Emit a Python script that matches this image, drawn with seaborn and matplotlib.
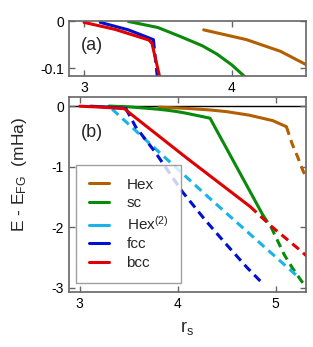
import matplotlib
matplotlib.use("Agg")
import matplotlib.pyplot as plt
from matplotlib.lines import Line2D
import seaborn as sns

# datos (rs, E - E_FG en mHa)
hex_rs = [3.81, 4.10, 4.33, 4.50, 4.73, 4.97, 5.11]
hex_e = [-0.018, -0.039, -0.064, -0.092, -0.15, -0.24, -0.34]
hex_rs_ext = [5.11, 5.17, 5.22, 5.28, 5.32]
hex_e_ext = [-0.34, -0.63, -0.82, -1.07, -1.20]

sc_rs = [3.30, 3.50, 3.65, 3.80, 3.90, 4.00, 4.08, 4.33, 4.87]
sc_e = [0.0, -0.013, -0.032, -0.052, -0.070, -0.093, -0.116, -0.20, -1.80]
sc_rs_ext = [4.87, 4.96, 5.09, 5.17, 5.32]
sc_e_ext = [-1.80, -2.02, -2.46, -2.67, -3.02]

hex2_rs_ext = [3.33, 4.29, 5.25]
hex2_e_ext = [-0.05, -1.47, -2.85]

fcc_rs = [3.11, 3.30, 3.47]
fcc_e = [-0.002, -0.018, -0.039]
fcc_rs_ext = [3.47, 3.57, 3.77, 4.05, 4.28, 4.50, 4.71, 4.88]
fcc_e_ext = [-0.04, -0.34, -0.76, -1.42, -1.88, -2.29, -2.67, -2.95]

bcc_rs = [3.0, 3.21, 3.44, 3.46, 3.51, 4.11, 4.74]
bcc_e = [-0.002, -0.017, -0.040, -0.047, -0.116, -0.88, -1.66]
bcc_rs_ext = [4.74, 4.96, 5.22, 5.32]
bcc_e_ext = [-1.66, -1.99, -2.34, -2.48]

labels = ['Hex', 'sc', 'Hex$^{(2)}$', 'fcc', 'bcc']
colors = ['#b35f00', '#0a8a0a', '#18b4e8', '#0010d0', '#e00000']

series = [
    (hex_rs, hex_e, hex_rs_ext, hex_e_ext),
    (sc_rs, sc_e, sc_rs_ext, sc_e_ext),
    ([], [], hex2_rs_ext, hex2_e_ext),
    (fcc_rs, fcc_e, fcc_rs_ext, fcc_e_ext),
    (bcc_rs, bcc_e, bcc_rs_ext, bcc_e_ext),
]

sns.set_style("ticks")
plt.rcParams['font.family'] = ['Liberation Sans', 'DejaVu Sans']
plt.rcParams['mathtext.fontset'] = 'custom'
plt.rcParams['mathtext.rm'] = 'Liberation Sans'
plt.rcParams['mathtext.it'] = 'Liberation Sans'
plt.rcParams['axes.unicode_minus'] = False
plt.rcParams['axes.edgecolor'] = '#666666'
plt.rcParams['xtick.color'] = '#666666'
plt.rcParams['ytick.color'] = '#666666'
plt.rcParams['xtick.labelcolor'] = 'black'
plt.rcParams['ytick.labelcolor'] = 'black'

fig = plt.figure(figsize=(3.13, 3.47), dpi=100)
ax1 = fig.add_axes([0.2204, 0.781, 0.7572, 0.1585])
ax2 = fig.add_axes([0.2204, 0.1585, 0.7572, 0.562])

lw = 2.2
dash = (0, (2.8, 1.8))
for ax in (ax1, ax2):
    for (rs, e, rs2, e2), c in zip(series, colors):
        if rs:
            sns.lineplot(x=rs, y=e, ax=ax, color=c, lw=lw, sort=False)
        elif ax is ax1:
            # Hex(2) no aparece en el panel (a)
            continue
        sns.lineplot(x=rs2, y=e2, ax=ax, color=c, lw=lw, sort=False, linestyle=dash)
    ax.tick_params(direction='in', top=True, right=True, length=4, width=1, labelsize=10)
    for s in ax.spines.values():
        s.set_linewidth(1.2)

ax1.set_xlim(2.898, 4.503)
ax1.set_ylim(-0.117, 0.001)
ax1.set_xticks([3, 4])
ax1.set_yticks([0, -0.1])
ax1.set_yticklabels(['0', '-0.1'])
ax1.text(0.05, 0.55, '(a)', transform=ax1.transAxes, fontsize=13, va='center')

ax2.axhline(0, color='black', lw=1, zorder=0)
ax2.set_xlim(2.89, 5.31)
ax2.set_ylim(-3.07, 0.15)
ax2.set_xticks([3, 4, 5])
ax2.set_yticks([0, -1, -2, -3])
ax2.set_yticklabels(['0', '-1', '-2', '-3'])
ax2.text(0.05, 0.82, '(b)', transform=ax2.transAxes, fontsize=13, va='center')
ax2.set_xlabel(r'r$_\mathrm{s}$', fontsize=13, labelpad=6)
ax2.set_ylabel(r'E - E$_\mathrm{FG}$  (mHa)', fontsize=12.5)
ax2.yaxis.set_label_coords(-0.17, 0.6)

handles = [Line2D([0], [0], color=c, lw=lw) for c in colors]
leg = ax2.legend(handles, labels, loc='lower left', bbox_to_anchor=(0.03, 0.046),
                 fontsize=11, frameon=True, fancybox=False, framealpha=0.8,
                 edgecolor='#888888', handlelength=1.3, handletextpad=1.15,
                 labelspacing=0.3, borderpad=0.85, borderaxespad=0)

fig.savefig('out.png', dpi=100)
